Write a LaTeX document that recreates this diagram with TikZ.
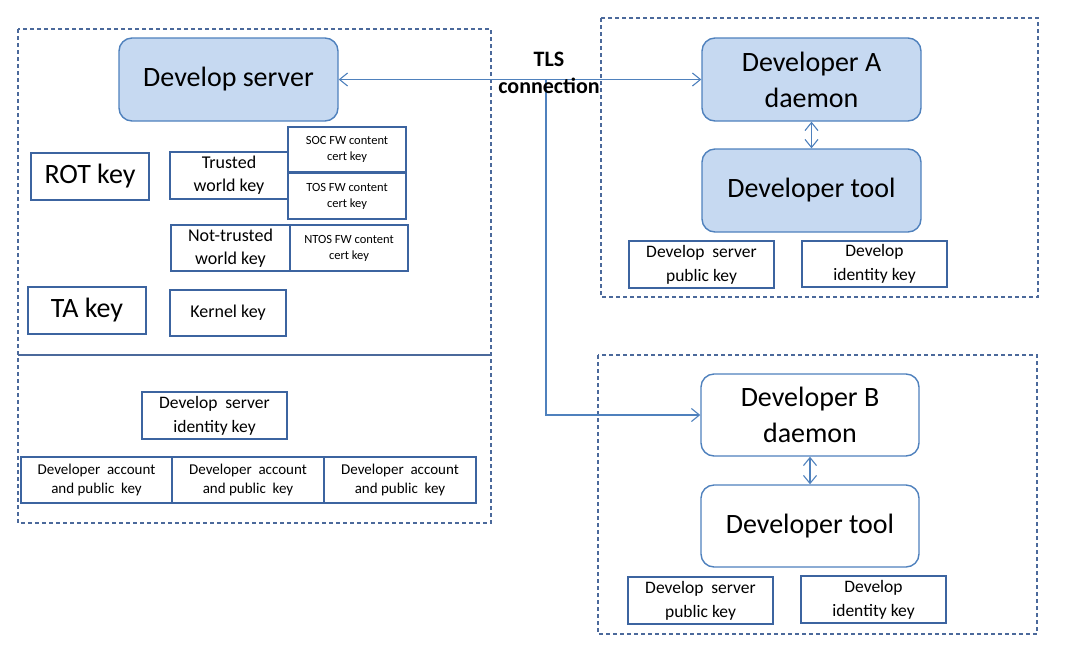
\documentclass[tikz,border=0pt]{standalone}
\usepackage{fontspec}
\setmainfont{Carlito}
\usetikzlibrary{arrows.meta}
\definecolor{boxfill}{RGB}{198,217,241}
\definecolor{roundline}{RGB}{79,129,189}
\definecolor{keyline}{RGB}{60,100,160}
\definecolor{dashline}{RGB}{75,105,155}
\definecolor{arrowline}{RGB}{79,129,189}
\tikzset{
  bigbox/.style={draw=roundline, line width=1.4pt, rounded corners=13pt, inner sep=0pt, align=center,
     font=\fontsize{28}{36}\selectfont},
  keybox/.style={draw=keyline, line width=1.3pt, inner sep=0pt, align=center},
  fbig/.style={font=\fontsize{28}{36}\selectfont},
  fmid/.style={font=\fontsize{18}{23}\selectfont},
  fsmall/.style={font=\fontsize{12.5}{16}\selectfont},
  facc/.style={font=\fontsize{15}{19}\selectfont},
  fkey/.style={font=\fontsize{17.5}{24}\selectfont},
  groupbox/.style={draw=dashline, line width=1.2pt, dash pattern=on 4pt off 3pt},
  conn/.style={draw=arrowline, line width=1.1pt, {Straight Barb[length=8pt,width=13pt]}-{Straight Barb[length=8pt,width=13pt]}},
  conn1/.style={draw=arrowline, line width=1.1pt, -{Straight Barb[length=8pt,width=13pt]}},
}
\begin{document}
\begin{tikzpicture}[x=1pt,y=-1pt]
\useasboundingbox (0,0) rectangle (1084,657);
% group boxes
\draw[groupbox] (18,29) rectangle (491,523);
\draw[draw=dashline, line width=1.2pt] (18,355) -- (491,355);
\draw[groupbox] (601,18) rectangle (1038,297);
\draw[groupbox] (598,355) rectangle (1037,634);

% left top
\node[bigbox, fill=boxfill, minimum width=219pt, minimum height=83pt] (srv) at (228.5,79.5) {Develop server};
\node[keybox, fbig, minimum width=118pt, minimum height=47pt] (rot) at (90,176.5) {ROT key};
\node[keybox, fmid, minimum width=118pt, minimum height=47pt] (tw) at (229,175.5) {Trusted\\world key};
\node[keybox, fsmall, minimum width=118pt, minimum height=45pt] (soc) at (347,149.5) {SOC FW content\\cert key};
\node[keybox, fsmall, minimum width=118pt, minimum height=46pt] (tos) at (347,196) {TOS FW content\\cert key};
\node[keybox, fmid, minimum width=119pt, minimum height=46pt] (ntw) at (230.5,248) {Not-trusted\\world key};
\node[keybox, fsmall, minimum width=118pt, minimum height=46pt] (ntos) at (349,248) {NTOS FW content\\cert key};
\node[keybox, fbig, minimum width=118pt, minimum height=47pt] (ta) at (87,310.5) {TA key};
\node[keybox, fmid, minimum width=116pt, minimum height=46pt] (kern) at (228,313) {Kernel key};

% left bottom
\node[keybox, fkey, minimum width=145pt, minimum height=47pt] (sik) at (214.5,415.5) {Develop\ \ server\\identity key};
\node[keybox, facc, minimum width=151pt, minimum height=46pt] (acc1) at (96.5,480) {Developer\ \ account\\and public\ \ key};
\node[keybox, facc, minimum width=152pt, minimum height=46pt] (acc2) at (248,480) {Developer\ \ account\\and public\ \ key};
\node[keybox, facc, minimum width=152pt, minimum height=46pt] (acc3) at (400,480) {Developer\ \ account\\and public\ \ key};

% right top
\node[bigbox, fill=boxfill, minimum width=219pt, minimum height=83pt] (da) at (811.5,79.5) {Developer A\\daemon};
\node[bigbox, fill=boxfill, minimum width=219pt, minimum height=83pt] (ta1) at (811.5,190.5) {Developer tool};
\node[keybox, fkey, minimum width=145pt, minimum height=47pt] (pka) at (701.5,264.5) {Develop\ \ server\\public key};
\node[keybox, fkey, minimum width=145pt, minimum height=46pt] (ika) at (874.5,264) {Develop\\identity key};

% right bottom
\node[bigbox, fill=white, minimum width=218pt, minimum height=82pt] (db) at (810,415) {Developer B\\daemon};
\node[bigbox, fill=white, minimum width=218pt, minimum height=82pt] (tb) at (810,526) {Developer tool};
\node[keybox, fkey, minimum width=145pt, minimum height=47pt] (pkb) at (700.5,600.5) {Develop\ \ server\\public key};
\node[keybox, fkey, minimum width=145pt, minimum height=47pt] (ikb) at (873.5,599.5) {Develop\\identity key};

% connectors
\draw[conn] (srv.east) -- (da.west);
\coordinate (split) at (546,79.5);
\draw[conn1] (split) |- (db.west);
\draw[conn] (da.south) -- (ta1.north);
\draw[conn] (db.south) -- (tb.north);

\node[font=\fontsize{22}{27}\selectfont\bfseries, align=center, inner sep=0pt] (tls) at (549,73) {TLS\\connection};
\end{tikzpicture}
\end{document}
